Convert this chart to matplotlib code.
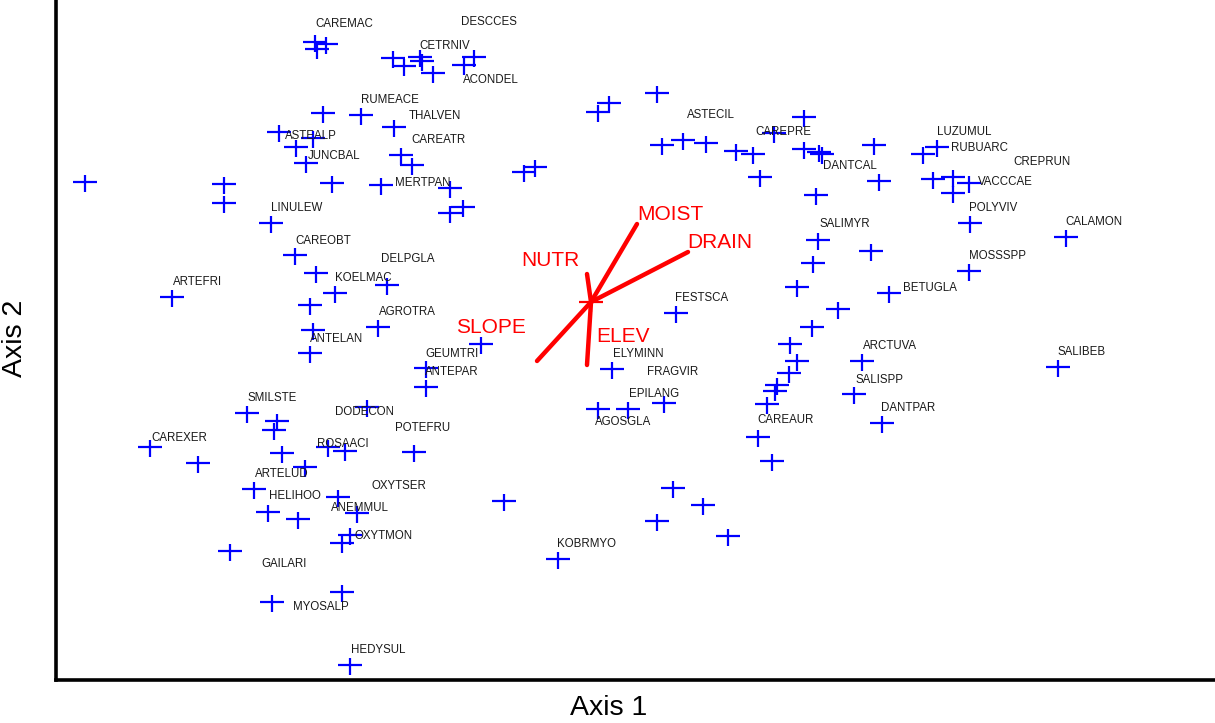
import matplotlib
matplotlib.use("Agg")
import matplotlib.pyplot as plt
from matplotlib.path import Path

plt.rcParams['font.family'] = ['Liberation Sans', 'DejaVu Sans']

# scores des parcelles / especes sur les deux axes
axis1 = [-5.06, -3.67, -3.67, -3.20, -2.76, -2.65, -2.74, -1.98, -1.87, -1.71,
         -1.69, -1.58, -1.27, -1.17, -2.68, -2.30, -1.97, -3.12, -2.78, -2.95,
         -2.85, -2.59, -2.10, -1.90, -1.79, -1.41, -1.41, -1.28, -0.67, -0.56,
         0.07, 0.18, 0.66, 0.71, 0.92, 1.15, 1.45, 1.62, 1.69, 2.13,
         1.83, 2.13, 2.28, 2.31, 2.83, 2.88, 2.25, 3.32, 3.46, 3.42,
         3.62, 3.78, 3.62, 3.79, 4.75, 2.27, 2.80, 2.22, 2.06, 2.98,
         2.47, 2.21, 1.99, 2.06, 2.71, 1.98, 1.86, 1.84, 1.76, 2.63,
         2.91, 1.67, 1.81, 3.78, 4.67, 0.85, 0.21, 0.07, 0.37, 0.73,
         -1.10, -2.96, -2.75, -2.56, -2.04, -4.19, -2.81, -2.13, -2.78, -2.81,
         -1.65, -1.65, -3.44, -3.14, -3.17, -2.24, -4.41, -3.09, -2.63, -2.46,
         -1.77, -3.93, -2.86, -3.37, -2.53, -3.23, -2.93, -2.34, -0.87, -2.41,
         -2.49, -3.61, -2.49, -3.19, -2.41, 0.82, 1.12, 0.66, 1.37, -0.33]
axis2 = [1.20, 1.18, 0.99, 0.79, 2.60, 2.58, 2.53, 2.44, 2.36, 2.45,
         2.41, 2.29, 2.37, 2.45, 1.89, 1.87, 1.75, 1.70, 1.64, 1.55,
         1.39, 1.19, 1.17, 1.47, 1.37, 1.14, 0.89, 0.95, 1.30, 1.35,
         1.90, 1.99, 2.09, 1.57, 1.62, 1.59, 1.51, 1.48, 1.25, 1.85,
         1.69, 1.53, 1.50, 1.48, 1.57, 1.21, 1.07, 1.48, 1.55, 1.23,
         1.25, 1.19, 1.09, 0.79, 0.65, 0.62, 0.51, 0.39, 0.15, 0.09,
         -0.07, -0.25, -0.42, -0.59, -0.59, -0.71, -0.83, -0.89, -1.02, -0.92,
         -1.21, -1.35, -1.59, 0.31, -0.65, -0.11, -0.67, -1.07, -1.07, -1.01,
         -0.42, 0.47, 0.29, 0.09, 0.17, 0.05, -0.03, -0.25, -0.28, -0.51,
         -0.66, -0.85, -1.11, -1.19, -1.28, -1.05, -1.45, -1.51, -1.45, -1.49,
         -1.50, -1.61, -1.65, -1.87, -1.95, -2.10, -2.17, -2.11, -1.99, -2.33,
         -2.41, -2.49, -2.90, -3.00, -3.63, -1.86, -2.03, -2.19, -2.34, -2.57]

# etiquettes d'especes
species = ['CAREMAC', 'DESCCES', 'CETRNIV', 'ACONDEL', 'RUMEACE', 'THALVEN',
           'ASTEALP', 'CAREATR', 'JUNCBAL', 'MERTPAN', 'LINULEW', 'CAREOBT',
           'DELPGLA', 'ARTEFRI', 'KOELMAC', 'AGROTRA', 'ANTELAN', 'GEUMTRI',
           'ANTEPAR', 'SMILSTE', 'DODECON', 'POTEFRU', 'CAREXER', 'ROSAACI',
           'ARTELUD', 'OXYTSER', 'HELIHOO', 'ANEMMUL', 'OXYTMON', 'GAILARI',
           'MYOSALP', 'HEDYSUL', 'KOBRMYO', 'ASTECIL', 'CAREPRE', 'DANTCAL',
           'LUZUMUL', 'RUBUARC', 'CREPRUN', 'VACCCAE', 'POLYVIV', 'CALAMON',
           'SALIMYR', 'MOSSSPP', 'BETUGLA', 'FESTSCA', 'ARCTUVA', 'SALIBEB',
           'SALISPP', 'DANTPAR', 'ELYMINN', 'FRAGVIR', 'EPILANG', 'AGOSGLA',
           'CAREAUR']
species_x = [-2.76, -1.30, -1.72, -1.28, -2.30, -1.82, -3.06, -1.80, -2.83, -1.96,
             -3.20, -2.96, -2.10, -4.18, -2.56, -2.12, -2.81, -1.66, -1.66, -3.44,
             -2.56, -1.96, -4.40, -2.74, -3.36, -2.20, -3.22, -2.60, -2.37, -3.30,
             -2.98, -2.40, -0.34, 0.96, 1.64, 2.32, 3.46, 3.60, 4.22, 3.87,
             3.78, 4.74, 2.28, 3.78, 3.12, 0.84, 2.72, 4.66, 2.64, 2.90,
             0.22, 0.56, 0.38, 0.04, 1.66]
species_y = [2.80, 2.82, 2.58, 2.24, 2.04, 1.88, 1.68, 1.64, 1.48, 1.21,
             0.96, 0.63, 0.45, 0.22, 0.26, -0.08, -0.35, -0.50, -0.68, -0.94,
             -1.08, -1.24, -1.34, -1.40, -1.70, -1.82, -1.92, -2.04, -2.32, -2.60,
             -3.03, -3.46, -2.40, 1.89, 1.72, 1.38, 1.72, 1.56, 1.42, 1.22,
             0.96, 0.82, 0.80, 0.48, 0.16, 0.06, -0.42, -0.48, -0.76, -1.04,
             -0.50, -0.68, -0.90, -1.18, -1.16]

# vecteurs environnementaux (biplot)
vectors = ['MOIST', 'DRAIN', 'NUTR', 'SLOPE', 'ELEV']
vec_x = [0.46, 0.97, -0.04, -0.54, -0.04]
vec_y = [0.78, 0.50, 0.28, -0.59, -0.63]
vec_lab_x = [0.46, 0.96, -0.70, -1.35, 0.05]
vec_lab_y = [0.90, 0.62, 0.44, -0.23, -0.32]

# marqueur "+" un peu asymetrique comme dans l'original
cross = Path([(-12, 0), (12, 0), (0, 7), (0, -10)],
             [Path.MOVETO, Path.LINETO, Path.MOVETO, Path.LINETO])

fig = plt.figure(figsize=(12.15, 7.23), dpi=100)
ax = fig.add_axes([0.04568, 0.05947, 0.95432, 0.94053])

ax.plot(axis1, axis2, linestyle='none', marker=cross, markersize=17.3,
        markeredgecolor='#0000ff', markerfacecolor='none', markeredgewidth=1.6)

for name, x, y in zip(species, species_x, species_y):
    ax.text(x, y, name, fontsize=8.3, color='#1a1a1a', ha='left', va='center_baseline')

for name, x, y, lx, ly in zip(vectors, vec_x, vec_y, vec_lab_x, vec_lab_y):
    ax.plot([0, x], [0, y], color='#ff0000', linewidth=3.2, solid_capstyle='round')
    ax.text(lx, ly, name, fontsize=15, color='#ff0000', ha='left', va='center_baseline')
ax.plot([0], [0], linestyle='none', marker=cross, markersize=17.3,
        markeredgecolor='#ff0000', markeredgewidth=1.6)

ax.set_xlim(-5.355, 6.24)
ax.set_ylim(-3.78, 3.02)
ax.set_xticks([])
ax.set_yticks([])
ax.spines['top'].set_visible(False)
ax.spines['right'].set_visible(False)
ax.spines['left'].set_linewidth(2.6)
ax.spines['bottom'].set_linewidth(2.6)
ax.patch.set_visible(False)

fig.text(609 / 1215, 1 - 708 / 723, 'Axis 1', fontsize=20.5, ha='center', va='center')
fig.text(15 / 1215, 1 - 338 / 723, 'Axis 2', fontsize=20.5, ha='center', va='center',
         rotation=90)

fig.savefig('out.png', dpi=100)
